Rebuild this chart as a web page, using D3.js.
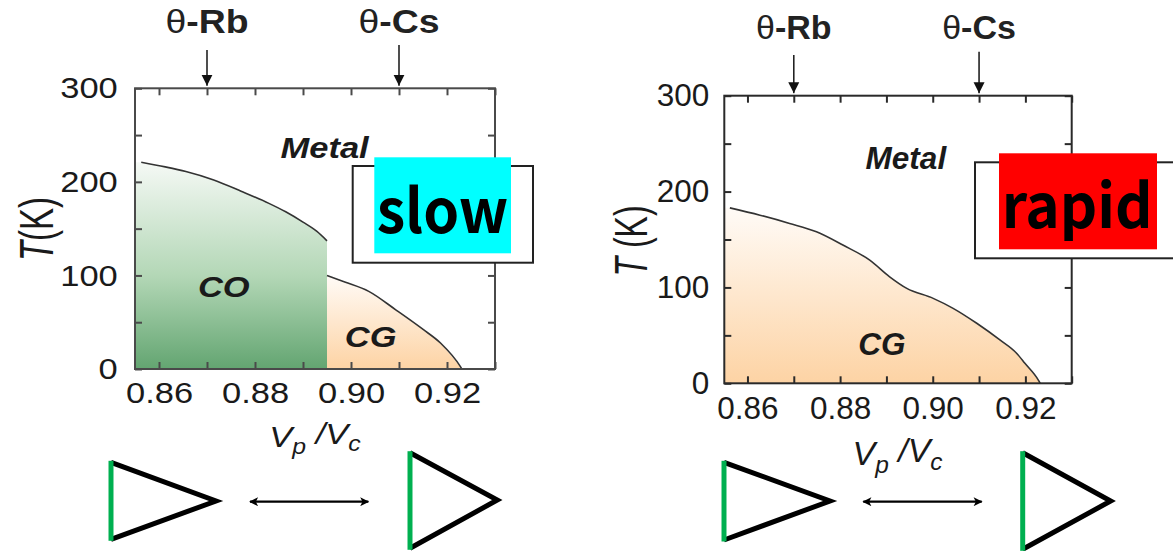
<!DOCTYPE html>
<html>
<head>
<meta charset="utf-8">
<script src="https://cdn.jsdelivr.net/npm/d3@7"></script>
<style>
  html, body { margin: 0; padding: 0; background: #fff; }
  svg { display: block; }
</style>
</head>
<body>
<svg id="chart" width="1173" height="551"></svg>
<script>
// ---- axis ticks and labels ----
const xTickValues = [0.86, 0.87, 0.88, 0.89, 0.90, 0.91, 0.92, 0.93];
const xTickLabels = ["0.86", "0.88", "0.90", "0.92"];
const yTickValues = [0, 50, 100, 150, 200, 250, 300];
const yTickLabels = ["0", "100", "200", "300"];

// ---- compounds marked on the top axis ----
const compounds = ["θ-Rb", "θ-Cs"];
const compoundRatio = [0.87, 0.91];

// ---- slowly cooled: CO boundary, then CG boundary beyond Vp/Vc = 0.895 ----
const slowCORatio = [0.8563, 0.8613, 0.8656, 0.8714, 0.8771, 0.8829, 0.8864, 0.8900, 0.8929, 0.8950];
const slowCOTemp  = [221, 216, 211, 202, 190, 177, 168, 157, 147, 137];
const slowCGRatio = [0.8950, 0.8987, 0.9037, 0.9094, 0.9151, 0.9187, 0.9228, 0.9231];
const slowCGTemp  = [100, 93, 83, 63, 42, 27.5, 2.5, 0];

// ---- rapidly cooled: CG boundary ----
const rapidCGRatio = [0.8562, 0.8627, 0.8691, 0.8749, 0.8806, 0.8864, 0.8907, 0.8944, 0.9001, 0.9044, 0.9095, 0.9145, 0.9181, 0.9199, 0.9228, 0.9232];
const rapidCGTemp  = [183, 175.4, 166.8, 158, 144.2, 128.5, 111.1, 99, 88.6, 78.2, 62.6, 45.2, 31.3, 20.9, 3.4, 0];

const FONT = "'Liberation Sans', Arial, Helvetica, sans-serif";
const GREEN = [["0", "#f5f9f5"], ["0.55", "#b3d7b6"], ["1", "#63a571"]];
const ORANGE = [["0", "#fffbf7"], ["1", "#fdd3a4"]];

const panels = [
  {
    key: "slow", left: 135, right: 495, top: 88.3, bottom: 369,
    sx: 1.15, fs: 30, frame: "#4a4a4a",
    regions: [
      { ratio: slowCORatio, temp: slowCOTemp, colors: GREEN, fromEdge: true },
      { ratio: slowCGRatio, temp: slowCGTemp, colors: ORANGE, fromEdge: false }
    ],
    phases: [["Metal", 0.8945, 225], ["CO", 0.8735, 77], ["CG", 0.9041, 24]],
    compoundBase: 33.3, arrowStart: [50, 45],
    xTitle: { cx: 315, base: 446.7, fs: 30 },
    yTitle: { cx: 36, cy: 229, fs: 33, stretch: 1.45 },
    tag: { text: "slow", fill: "#00ffff",
           box: [352.7, 166, 533, 262.7], bg: [374.3, 157.3, 511, 253.3],
           tx: [376.7, 508.3], base: 232.7 },
    tris: [{ gx: 111, gy0: 462.3, gy1: 539.3, ax: 216, ay: 501 },
           { gx: 410, gy0: 452.7, gy1: 548.3, ax: 497.3, ay: 500 }],
    link: [250, 368.3, 501.7]
  },
  {
    key: "rapid", left: 724.3, right: 1071.7, top: 95.7, bottom: 383.3,
    sx: 1.0, fs: 31.5, frame: "#2a2a2a",
    regions: [
      { ratio: rapidCGRatio, temp: rapidCGTemp, colors: ORANGE, fromEdge: true }
    ],
    phases: [["Metal", 0.8942, 224], ["CG", 0.8890, 29.5]],
    compoundBase: 39.3, arrowStart: [55, 51.7],
    xTitle: { cx: 897.5, base: 465, fs: 34 },
    yTitle: { cx: 630, cy: 241, fs: 32, stretch: 1.45 },
    tag: { text: "rapid", fill: "#ff0000",
           box: [975, 162.3, 1200, 258.3], bg: [999, 153.3, 1157, 249.3],
           tx: [1001.7, 1152.7], base: 228.3 },
    tris: [{ gx: 724, gy0: 462.3, gy1: 540, ax: 830, ay: 501 },
           { gx: 1022.7, gy0: 452.7, gy1: 549.3, ax: 1110.7, ay: 501 }],
    link: [863.3, 981.7, 501.7]
  }
];

const svg = d3.select("#chart");
const defs = svg.append("defs");

// filled arrowhead for the compound markers
defs.append("marker")
  .attr("id", "tip").attr("viewBox", "0 0 10 10")
  .attr("refX", 10).attr("refY", 5)
  .attr("markerUnits", "userSpaceOnUse")
  .attr("markerWidth", 11).attr("markerHeight", 14)
  .attr("orient", "auto")
  .append("path").attr("d", "M0,0 L10,5 L0,10 Z").attr("fill", "#111");

// arrowheads for the double-headed link between triangles
defs.append("marker")
  .attr("id", "dbl").attr("viewBox", "0 0 10 10")
  .attr("refX", 9).attr("refY", 5)
  .attr("markerUnits", "userSpaceOnUse")
  .attr("markerWidth", 10).attr("markerHeight", 9)
  .attr("orient", "auto-start-reverse")
  .append("path").attr("d", "M0,0 L10,5 L0,10 L2.5,5 Z").attr("fill", "#000");

const fmtX = d3.format(".2f");

panels.forEach((p, pi) => {
  const x = d3.scaleLinear().domain([0.855, 0.93]).range([p.left, p.right]);
  const y = d3.scaleLinear().domain([0, 300]).range([p.bottom, p.top]);
  const g = svg.append("g").attr("class", "panel-" + p.key);

  // stretched text helper (some panels are drawn wider than tall)
  const stretchText = (sel, cx, base, sx) =>
    sel.attr("transform", `translate(${cx},${base}) scale(${sx},1)`);

  // ---- phase regions ----
  p.regions.forEach((r, ri) => {
    const pts = r.ratio.map((v, i) => ({ v, t: r.temp[i] }));
    const fillPts = r.fromEdge ? [{ v: x.domain()[0], t: pts[0].t }].concat(pts) : pts;
    const gid = `grad-${p.key}-${ri}`;
    const grad = defs.append("linearGradient").attr("id", gid)
      .attr("gradientUnits", "userSpaceOnUse")
      .attr("x1", 0).attr("x2", 0)
      .attr("y1", y(d3.max(r.temp))).attr("y2", y(0));
    r.colors.forEach(([o, c]) =>
      grad.append("stop").attr("offset", o).attr("stop-color", c));

    g.append("path").datum(fillPts)
      .attr("d", d3.area().x(d => x(d.v)).y0(y(0)).y1(d => y(d.t)))
      .attr("fill", `url(#${gid})`);

    g.append("path").datum(pts)
      .attr("d", d3.line().x(d => x(d.v)).y(d => y(d.t)).curve(d3.curveMonotoneX))
      .attr("fill", "none").attr("stroke", "#333").attr("stroke-width", 1.6);
  });

  // ---- frame and inward ticks on all four sides ----
  const tick = 7;
  const axes = [
    [d3.axisBottom(x).tickValues(xTickValues), `translate(0,${p.bottom})`, "x"],
    [d3.axisTop(x).tickValues(xTickValues), `translate(0,${p.top})`, null],
    [d3.axisLeft(y).tickValues(yTickValues), `translate(${p.left},0)`, "y"],
    [d3.axisRight(y).tickValues(yTickValues), `translate(${p.right},0)`, null]
  ];
  axes.forEach(([ax, tr, lab]) => {
    ax.tickSizeInner(-tick).tickSizeOuter(0).tickPadding(lab === "x" ? 13 : 15);
    if (lab === "x") ax.tickFormat(d => xTickLabels.includes(fmtX(d)) ? fmtX(d) : "");
    else if (lab === "y") ax.tickFormat(d => yTickLabels.includes(String(d)) ? String(d) : "");
    else ax.tickFormat(() => "");
    const a = g.append("g").attr("transform", tr).call(ax);
    a.select(".domain").remove();
    a.selectAll(".tick line").attr("stroke", p.frame).attr("stroke-width", 2);
    a.selectAll(".tick text")
      .attr("fill", "#1a1a1a")
      .style("font-family", FONT)
      .style("font-size", p.fs + "px")
      .attr("transform", `scale(${p.sx},1)`);
  });

  g.append("rect")
    .attr("x", p.left).attr("y", p.top)
    .attr("width", p.right - p.left).attr("height", p.bottom - p.top)
    .attr("fill", "none").attr("stroke", p.frame).attr("stroke-width", 2);

  // ---- compound markers above the frame ----
  compounds.forEach((c, i) => {
    const cx = x(compoundRatio[i]);
    g.append("line")
      .attr("x1", cx).attr("x2", cx)
      .attr("y1", p.arrowStart[i]).attr("y2", p.top - 2.5)
      .attr("stroke", "#222").attr("stroke-width", 1.6)
      .attr("marker-end", "url(#tip)");
    const parts = c.split("-");
    const t = g.append("text")
      .attr("text-anchor", "middle")
      .style("font-family", FONT)
      .style("font-size", (p.fs + 2.5) + "px")
      .attr("fill", "#222");
    stretchText(t, cx, p.compoundBase, p.sx);
    t.append("tspan").text(parts[0]).style("font-weight", "normal");
    t.append("tspan").text("-" + parts[1]).style("font-weight", "bold");
  });

  // ---- phase names ----
  p.phases.forEach(([name, v, tK]) => {
    const t = g.append("text")
      .attr("text-anchor", "middle")
      .style("font-family", FONT)
      .style("font-size", p.fs + "px")
      .style("font-weight", "bold").style("font-style", "italic")
      .attr("fill", "#1a1a1a")
      .text(name);
    stretchText(t, x(v), y(tK), p.sx);
  });

  // ---- axis titles ----
  const xt = g.append("text")
    .attr("text-anchor", "middle")
    .style("font-family", FONT).style("font-size", p.xTitle.fs + "px")
    .style("font-style", "italic").attr("fill", "#1a1a1a");
  stretchText(xt, p.xTitle.cx, p.xTitle.base, p.sx);
  xt.append("tspan").text("V");
  xt.append("tspan").text("p").attr("dy", "0.32em").style("font-size", "0.72em");
  xt.append("tspan").text(" /").attr("dy", "-0.32em");
  xt.append("tspan").text("V");
  xt.append("tspan").text("c").attr("dy", "0.32em").style("font-size", "0.72em");

  const yt = g.append("text")
    .attr("text-anchor", "middle")
    .attr("transform", `translate(${p.yTitle.cx},${p.yTitle.cy}) rotate(-90) scale(1,${p.yTitle.stretch})`)
    .attr("dy", "0.36em")
    .style("font-family", FONT).style("font-size", p.yTitle.fs + "px")
    .attr("fill", "#1a1a1a");
  yt.append("tspan").text("T").style("font-style", "italic");
  yt.append("tspan").text(pi === 0 ? "(K)" : " (K)");

  // ---- cooling-rate tag ----
  const tg = svg.append("g").attr("class", "tag-" + p.key);
  const [bx0, by0, bx1, by1] = p.tag.box;
  tg.append("rect").attr("x", bx0).attr("y", by0)
    .attr("width", bx1 - bx0).attr("height", by1 - by0)
    .attr("fill", "#fff").attr("stroke", "#222").attr("stroke-width", 2);
  const [cx0, cy0, cx1, cy1] = p.tag.bg;
  tg.append("rect").attr("x", cx0).attr("y", cy0)
    .attr("width", cx1 - cx0).attr("height", cy1 - cy0)
    .attr("fill", p.tag.fill);
  tg.append("text")
    .attr("x", p.tag.tx[0]).attr("y", p.tag.base)
    .attr("textLength", p.tag.tx[1] - p.tag.tx[0])
    .attr("lengthAdjust", "spacingAndGlyphs")
    .style("font-family", "'Noto Sans CJK SC', 'Noto Sans', sans-serif")
    .style("font-weight", "bold").style("font-size", "61px")
    .attr("fill", "#000")
    .text(p.tag.text);

  // ---- triangle sketches with a double arrow between them ----
  const sk = svg.append("g").attr("class", "sketch-" + p.key);
  p.tris.forEach(tr => {
    sk.append("polyline")
      .attr("points", `${tr.gx},${tr.gy0} ${tr.ax},${tr.ay} ${tr.gx},${tr.gy1}`)
      .attr("fill", "none").attr("stroke", "#000").attr("stroke-width", 5)
      .attr("stroke-linejoin", "miter");
    sk.append("line")
      .attr("x1", tr.gx).attr("x2", tr.gx)
      .attr("y1", tr.gy0 - 1.5).attr("y2", tr.gy1 + 1.5)
      .attr("stroke", "#00b050").attr("stroke-width", 5);
  });
  sk.append("line")
    .attr("x1", p.link[0]).attr("x2", p.link[1])
    .attr("y1", p.link[2]).attr("y2", p.link[2])
    .attr("stroke", "#000").attr("stroke-width", 2.2)
    .attr("marker-start", "url(#dbl)").attr("marker-end", "url(#dbl)");
});
</script>
</body>
</html>
